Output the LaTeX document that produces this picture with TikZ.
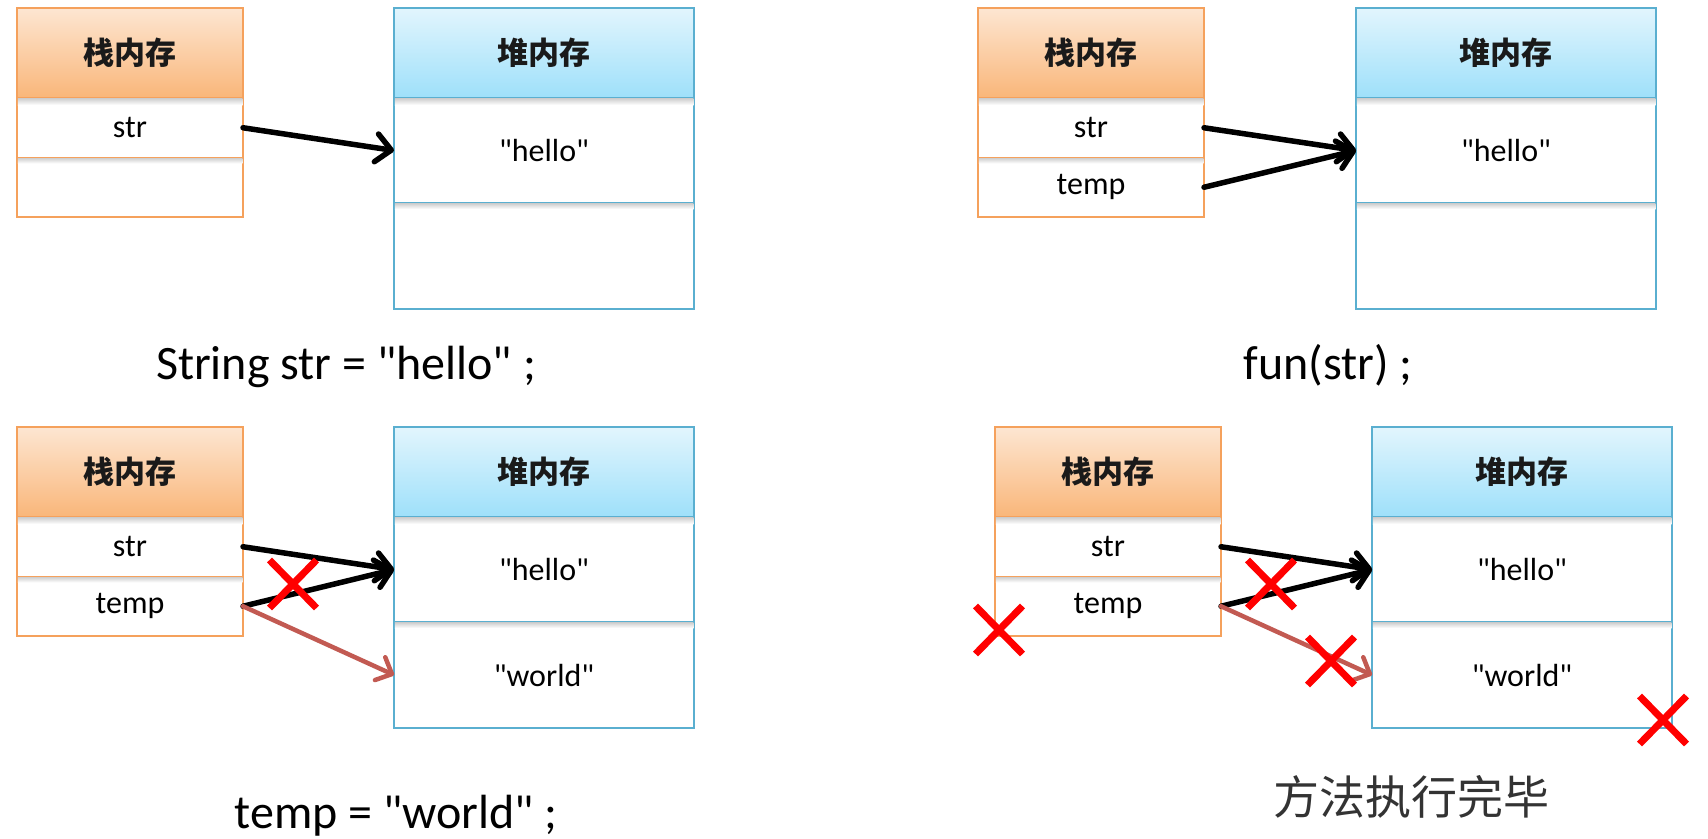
\documentclass[tikz,border=0pt]{standalone}
\usepackage{fontspec}
\newfontfamily\latin{Carlito}
\newfontfamily\cjk{Noto Sans CJK SC}
\usetikzlibrary{arrows.meta,shapes.misc}
\definecolor{stackline}{HTML}{F5A15C}
\definecolor{stacktop}{HTML}{FDE6D2}
\definecolor{stackbot}{HTML}{F9B679}
\definecolor{heapline}{HTML}{5AAFD0}
\definecolor{heaptop}{HTML}{E2F5FD}
\definecolor{heapbot}{HTML}{9EE0FA}
\definecolor{redarrow}{HTML}{C25A52}
\definecolor{captiongray}{HTML}{333333}
\definecolor{headtext}{HTML}{1A1A1A}
\tikzset{
  cell/.style={rectangle, anchor=north west, inner sep=0pt, outer sep=0pt, line width=1.5pt},
  headfont/.style={font=\cjk\bfseries\fontsize{31}{36}\selectfont, text=headtext},
  stackhead/.style={cell, headfont, draw=stackline, top color=stacktop, bottom color=stackbot, minimum width=226pt, minimum height=90pt},
  stackcell/.style={cell, draw=stackline, fill=white, minimum width=226pt, font=\latin\fontsize{32}{38}\selectfont},
  heaphead/.style={cell, headfont, draw=heapline, top color=heaptop, bottom color=heapbot, minimum width=300pt, minimum height=90pt},
  heapcell/.style={cell, draw=heapline, fill=white, minimum width=300pt, font=\latin\fontsize{32}{38}\selectfont},
  cellshadow/.style={top color=black!18, bottom color=white},
  refarrow/.style={line width=5.5pt, line cap=round, -{Straight Barb[length=15pt,width=28pt,line cap=round,line join=round]}},
  newarrow/.style={line width=4.5pt, draw=redarrow, line cap=round, -{Straight Barb[length=13pt,width=25pt,line cap=round,line join=round]}},
  redx/.style={cross out, draw=red, line width=7pt, minimum width=47pt, minimum height=48pt, inner sep=0pt, outer sep=0pt},
  caption/.style={anchor=base, inner sep=0pt, font=\latin\fontsize{48}{56}\selectfont},
}
% #1 prefix, #2 x, #3 y, #4 row a text, #5 row b text
\newcommand\stackcolumn[5]{%
  \node[stackhead] (#1h) at (#2,#3) {栈内存};
  \node[stackcell, minimum height=59.5pt] (#1a) at (#1h.south west) {#4};
  \node[stackcell, minimum height=59.5pt] (#1b) at (#1a.south west) {#5};
  \shade[cellshadow] ([xshift=0.75pt,yshift=-0.75pt]#1a.north west) rectangle ([xshift=-0.75pt,yshift=-7pt]#1a.north east);
  \shade[cellshadow] ([xshift=0.75pt,yshift=-0.75pt]#1b.north west) rectangle ([xshift=-0.75pt,yshift=-6pt]#1b.north east);
}
\newcommand\heapcolumn[5]{%
  \node[heaphead] (#1h) at (#2,#3) {堆内存};
  \node[heapcell, minimum height=105pt] (#1a) at (#1h.south west) {#4};
  \node[heapcell, minimum height=106pt] (#1b) at (#1a.south west) {#5};
  \shade[cellshadow] ([xshift=0.75pt,yshift=-0.75pt]#1a.north west) rectangle ([xshift=-0.75pt,yshift=-7pt]#1a.north east);
  \shade[cellshadow] ([xshift=0.75pt,yshift=-0.75pt]#1b.north west) rectangle ([xshift=-0.75pt,yshift=-6pt]#1b.north east);
}
\begin{document}
\begin{tikzpicture}[x=1pt,y=-1pt]
\useasboundingbox[fill=white] (0,0) rectangle (1708,838);

% panel 1
\stackcolumn{sa}{17}{8}{str}{}
\heapcolumn{ha}{394}{8}{"hello"}{}
\draw[refarrow] (saa.east) -- (haa.west);
\node[caption] (ca) at (346,379) {String str = "hello" ;};

% panel 2
\stackcolumn{sb}{978}{8}{str}{temp}
\heapcolumn{hb}{1356}{8}{"hello"}{}
\draw[refarrow] (sba.east) -- (hba.west);
\draw[refarrow] (sbb.east) -- (hba.west);
\node[caption] (cb) at (1328,379) {fun(str) ;};

% panel 3
\stackcolumn{sc}{17}{427}{str}{temp}
\heapcolumn{hc}{394}{427}{"hello"}{"world"}
\draw[refarrow] (sca.east) -- (hca.west);
\draw[refarrow] (scb.east) -- (hca.west);
\draw[newarrow] (scb.east) -- (hcb.west);
\node[redx] (xa) at (293,584) {};
\node[caption] (cc) at (396,828) {temp = "world" ;};

% panel 4
\stackcolumn{sd}{995}{427}{str}{temp}
\heapcolumn{hd}{1372}{427}{"hello"}{"world"}
\draw[refarrow] (sda.east) -- (hda.west);
\draw[refarrow] (sdb.east) -- (hda.west);
\draw[newarrow] (sdb.east) -- (hdb.west);
\node[redx] (xb) at (1271,584) {};
\node[redx] (xc) at (999,630) {};
\node[redx] (xd) at (1331,661) {};
\node[redx] (xe) at (1663,720) {};
\node[caption, text=captiongray, font=\cjk\fontsize{46}{52}\selectfont] (cd) at (1411,814) {方法执行完毕};
\end{tikzpicture}
\end{document}
